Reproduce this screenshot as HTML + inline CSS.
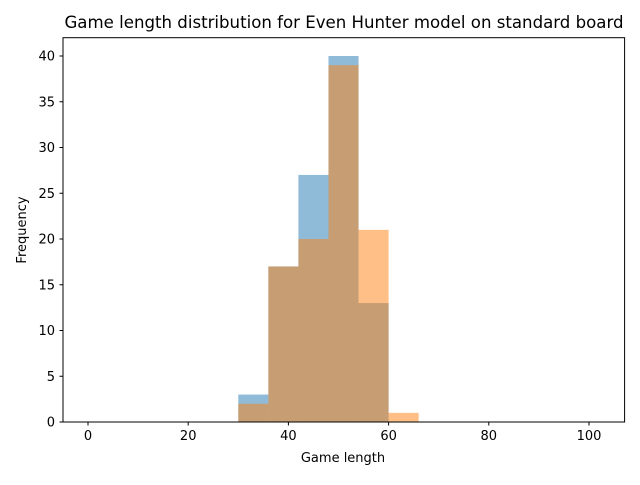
<!DOCTYPE html>
<html><head><meta charset="utf-8"><style>
body{margin:0;background:#fff;font-family:"Liberation Sans","DejaVu Sans",sans-serif}
svg text{font-family:"DejaVu Sans","Liberation Sans",sans-serif}
</style></head><body>
<svg id="chart" width="640" height="480" xmlns="http://www.w3.org/2000/svg">
<rect width="640" height="480" fill="#fff"/>
<g id="bars"></g>
<rect x="63" y="37.7" width="561.6" height="384.3" fill="none" stroke="#000" stroke-width="1"/>
<g id="axes"></g>
<text x="344" y="28" font-size="16.6" text-anchor="middle">Game length distribution for Even Hunter model on standard board</text>
<text x="343" y="462" font-size="13" text-anchor="middle">Game length</text>
<text x="26" y="230" font-size="13" text-anchor="middle" transform="rotate(-90 26 230)">Frequency</text>
</svg>
<script>
const binEdges = [30, 36, 42, 48, 54, 60, 66];
const blueCounts = [3, 17, 27, 40, 13, 0];
const orangeCounts = [2, 17, 20, 39, 21, 1];
const xTicks = [0, 20, 40, 60, 80, 100];
const yTicks = [0, 5, 10, 15, 20, 25, 30, 35, 40];

const NS = "http://www.w3.org/2000/svg";
const X = v => 88 + (v - 0) * 5.01;
const Y = v => 422 - v * 9.15;
const bars = document.getElementById('bars');
const axes = document.getElementById('axes');
function mk(tag, attrs, parent){const e=document.createElementNS(NS,tag);for(const k in attrs)e.setAttribute(k,attrs[k]);parent.appendChild(e);return e;}
function drawSeries(counts, color, name){
  counts.forEach((c,i)=>{
    if(c<=0) return;
    const r = mk('rect',{x:X(binEdges[i]),y:Y(c),width:X(binEdges[i+1])-X(binEdges[i]),height:Y(0)-Y(c),fill:color,'fill-opacity':0.5},bars);
    
    
  });
}
drawSeries(blueCounts, '#1f77b4', 'blue');
drawSeries(orangeCounts, '#ff7f0e', 'orange');
xTicks.forEach(t=>{
  const l = mk('line',{x1:X(t),x2:X(t),y1:422,y2:425.5,stroke:'#000'},axes);
  
  
  const tx = mk('text',{x:X(t),y:440,'font-size':13,'text-anchor':'middle'},axes);
  tx.textContent = t;
  
  
});
yTicks.forEach(t=>{
  const l = mk('line',{x1:59.5,x2:63,y1:Y(t),y2:Y(t),stroke:'#000'},axes);
  
  
  const tx = mk('text',{x:55,y:Y(t)+4.5,'font-size':13,'text-anchor':'end'},axes);
  tx.textContent = t;
  
  
});
</script>
</body></html>
